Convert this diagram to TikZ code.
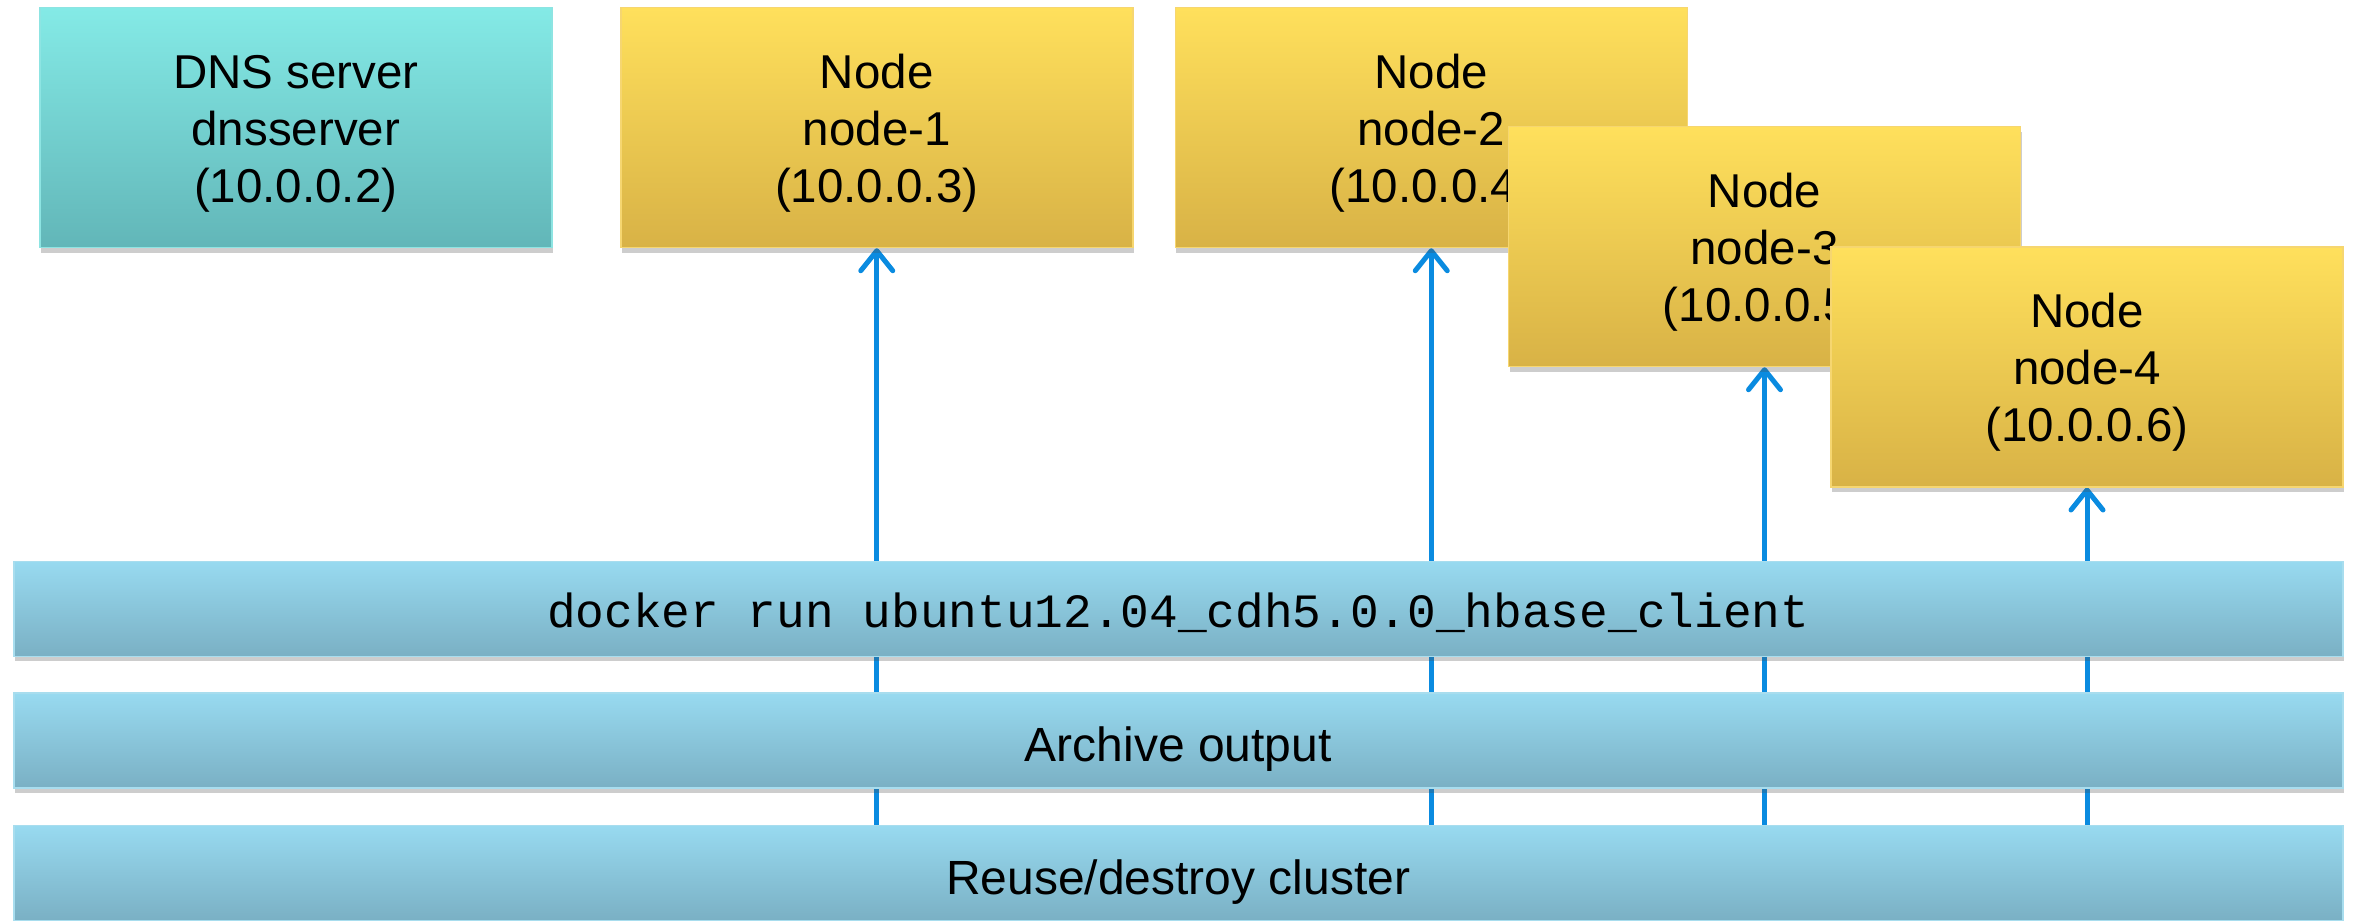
\documentclass[tikz,border=0pt]{standalone}
\usepackage{fontspec}
\setmainfont{Liberation Sans}
\newfontfamily\codefont{Liberation Mono}
\usetikzlibrary{arrows.meta,shadows}
\pgfdeclarelayer{bg}
\pgfsetlayers{bg,main}
\definecolor{cyantop}{HTML}{84EAE6}
\definecolor{cyanbot}{HTML}{62B6B8}
\definecolor{cyanline}{HTML}{8DE4E2}
\definecolor{yeltop}{HTML}{FFE05C}
\definecolor{yelbot}{HTML}{D8B246}
\definecolor{yelline}{HTML}{F6D670}
\definecolor{bartop}{HTML}{98DAF0}
\definecolor{barbot}{HTML}{7AB0C4}
\definecolor{barline}{HTML}{A8DDEE}
\definecolor{arrowblue}{HTML}{0A8BE0}
\begin{document}
\begin{tikzpicture}[x=1pt,y=-1pt,
  shadowed/.style={drop shadow={shadow xshift=1pt,shadow yshift=-5pt,opacity=.28,fill=black!70}},
  box/.style={shadowed,rectangle,minimum width=512pt,minimum height=240pt,inner sep=0pt,
    line width=1.5pt,align=center,font=\fontsize{47.5}{57}\selectfont,
    text height=155pt,text depth=6pt},
  dnsbox/.style={box,draw=cyanline,top color=cyantop,bottom color=cyanbot},
  hostbox/.style={box,draw=yelline,top color=yeltop,bottom color=yelbot},
  bar/.style={shadowed,rectangle,minimum width=2329pt,minimum height=95pt,inner sep=0pt,
    line width=1.5pt,draw=barline,top color=bartop,bottom color=barbot,
    font=\fontsize{48}{57}\selectfont,text height=46pt,text depth=4pt},
  codebar/.style={bar,font=\codefont\fontsize{47.8}{57}\selectfont,text height=42pt,text depth=5pt},
  link/.style={draw=arrowblue,line width=5pt,-{Straight Barb[length=20pt,width=32pt,round]}}]
\useasboundingbox (0,0) rectangle (2354,921);
\node[dnsbox]  (dns) at (295.75,127.5) {DNS server\\dnsserver\\(10.0.0.2)};
\node[hostbox] (n1)  at (876.75,127.5) {Node\\node-1\\(10.0.0.3)};
\node[hostbox] (n2)  at (1431.25,127.5) {Node\\node-2\\(10.0.0.4)};
\node[hostbox] (n3)  at (1764.5,246.5) {Node\\node-3\\(10.0.0.5)};
\node[hostbox] (n4)  at (2087,366.75) {Node\\node-4\\(10.0.0.6)};
\node[codebar] (bar1) at (1178.25,608.75) {docker run ubuntu12.04\_cdh5.0.0\_hbase\_client};
\node[bar] (bar2) at (1178.25,740.5) {Archive output};
\node[bar] (bar3) at (1178.25,873) {Reuse/destroy cluster};
\begin{pgfonlayer}{bg}
\foreach \n in {n1,n2,n3,n4}
  \draw[link] (\n.south |- bar3.center) -- (\n.south);
\end{pgfonlayer}
\end{tikzpicture}
\end{document}
